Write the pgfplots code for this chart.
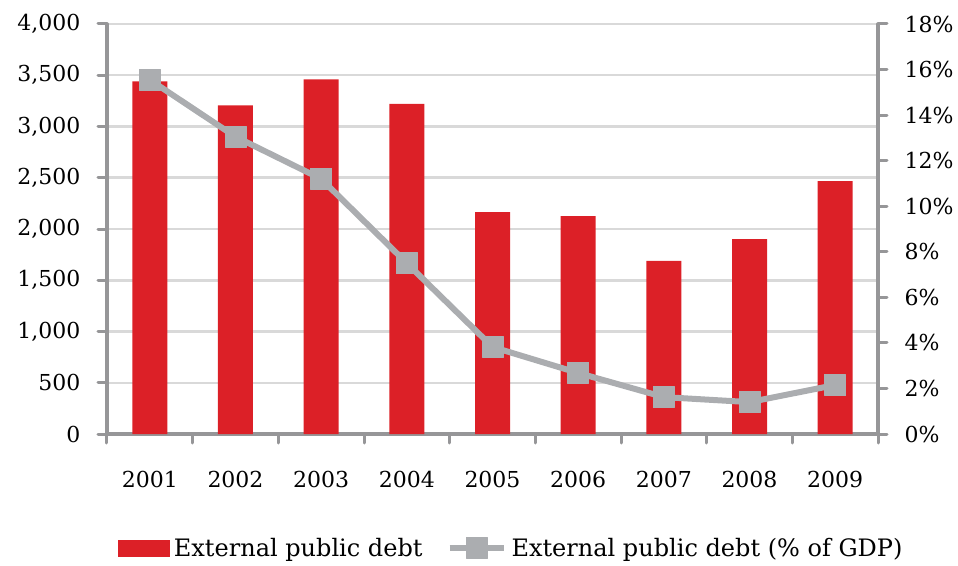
\documentclass[border=0pt]{standalone}
\usepackage{fontspec}
\setmainfont{DejaVu Serif}
\usepackage{pgfplots}
\pgfplotsset{compat=1.18}
\definecolor{barred}{RGB}{220,32,39}
\definecolor{linegray}{RGB}{171,173,176}
\definecolor{axgray}{RGB}{150,150,152}
\definecolor{gridgray}{RGB}{217,217,217}
\newcommand{\fs}{\fontsize{22}{26}\selectfont}
\newcommand{\fl}{\fontsize{24}{28}\selectfont}
\pgfplotsset{mylineleg/.style={legend image code/.code={\draw[mark repeat=2,mark phase=2,##1] plot coordinates {(0pt,0pt)(27pt,0pt)(54pt,0pt)};}}}
\pgfplotsset{mybarleg/.style={legend image code/.code={\fill[barred] (0pt,-8pt) rectangle (51pt,8pt);}}}
\begin{document}
\begin{tikzpicture}
\path[use as bounding box] (-107pt,-131pt) rectangle (851pt,434pt);
\begin{axis}[
  at={(0pt,0pt)}, anchor=south west,
  scale only axis, width=771pt, height=410pt,
  xmin=-0.5, xmax=8.5, ymin=0, ymax=4000,
  axis x line*=bottom, axis y line*=left,
  axis line style={axgray, line width=3.5pt, line cap=round, -},
  xtick={0,...,8},
  xticklabels={2001,2002,2003,2004,2005,2006,2007,2008,2009},
  minor xtick={-0.5,0.5,...,8.5},
  major x tick style={draw=none},
  minor tick length=9pt,
  every minor tick/.style={axgray, line width=3pt, line cap=round},
  ytick={0,500,...,4000},
  y tick style={axgray, line width=3pt, line cap=round},
  major tick length=9pt,
  tick align=outside,
  ymajorgrids,
  grid style={gridgray, line width=2.5pt},
  /pgf/number format/assume math mode=true,
  /pgf/number format/1000 sep={,},
  tick label style={font=\fs, black},
  xticklabel style={yshift=-25pt},
  yticklabel style={xshift=-14pt},
  ybar, bar width=35pt,
]
\addplot[fill=barred, draw=none] coordinates {
  (0,3440) (1,3205) (2,3460) (3,3220) (4,2165) (5,2125) (6,1688) (7,1902) (8,2468)};
\end{axis}
\begin{axis}[
  at={(0pt,0pt)}, anchor=south west,
  scale only axis, width=771pt, height=410pt,
  xmin=-0.5, xmax=8.5, ymin=0, ymax=18,
  axis x line=none, axis y line*=right,
  axis line style={axgray, line width=3.5pt, line cap=round, -},
  ytick={0,2,...,18},
  yticklabel={\pgfmathprintnumber{\tick}\%},
  y tick style={axgray, line width=3pt, line cap=round},
  major tick length=9pt,
  tick align=outside,
  /pgf/number format/assume math mode=true,
  tick label style={font=\fs, black},
  yticklabel style={xshift=14pt},
  legend style={at={(0.524,-0.278)}, anchor=center, draw=none, fill=none,
    font=\fl, legend columns=2,
    /tikz/every odd column/.append style={column sep=3pt},
    /tikz/every even column/.append style={column sep=22pt}},
]
\addlegendimage{mybarleg}
\addlegendentry{External public debt}
\addplot[linegray, line width=6pt, line join=round,
  mark=square*, mark size=10.5pt,
  mark options={fill=linegray, draw=linegray, line width=1pt, rounded corners=2pt},
  mylineleg]
  coordinates {
  (0,15.55) (1,13.05) (2,11.2) (3,7.5) (4,3.82) (5,2.68) (6,1.62) (7,1.40) (8,2.15)};
\addlegendentry{External public debt (\% of GDP)}
\end{axis}
\end{tikzpicture}
\end{document}
